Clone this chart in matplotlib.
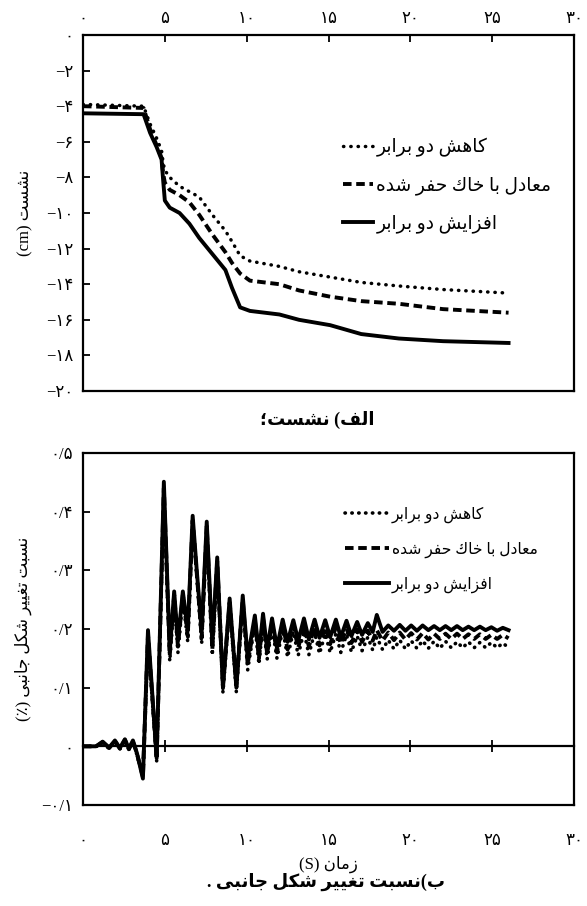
import matplotlib
matplotlib.use('Agg')
import matplotlib.pyplot as plt
from matplotlib.ticker import FuncFormatter, MultipleLocator

plt.rcParams['font.family'] = ['Liberation Serif', 'DejaVu Sans']

# --- top panel: settlement (cm) vs time (s)
t_top = [0, 3.7, 4.1, 4.5, 4.8, 4.9, 5.0, 5.3, 5.9, 6.5, 7.1, 7.9, 8.7, 9.1, 9.6,
         10.2, 12.0, 13.2, 15.1, 17.0, 19.3, 22.0, 26.0]
settle_half = [-3.9, -4.0, -5.0, -5.8, -6.5, -7.2, -7.6, -8.0, -8.5, -8.8, -9.1, -10.1,
               -11.0, -11.6, -12.4, -12.7, -13.0, -13.3, -13.6, -13.9, -14.1, -14.3, -14.5]
settle_equal = [-4.0, -4.1, -5.3, -6.2, -6.9, -7.8, -8.3, -8.7, -9.0, -9.4, -10.1, -11.2,
                -12.2, -12.8, -13.4, -13.8, -14.0, -14.35, -14.7, -14.95, -15.1, -15.4, -15.6]
settle_double = [-4.4, -4.45, -5.5, -6.3, -7.0, -8.2, -9.3, -9.7, -10.0, -10.6, -11.4, -12.3,
                 -13.2, -14.2, -15.3, -15.5, -15.7, -16.0, -16.3, -16.8, -17.05, -17.2, -17.3]

# --- bottom panel: lateral deformation ratio (%) vs time (s)
t_bot = [0, 0.8, 1.2, 1.6, 1.95, 2.25, 2.56, 2.8, 3.05, 3.3, 3.66, 3.97, 4.5, 4.94, 5.3,
         5.57, 5.8, 6.1, 6.4, 6.7, 6.95, 7.25, 7.56, 7.9, 8.2, 8.55, 8.96, 9.37, 9.76, 10.06,
         10.5, 10.75, 11.0, 11.25, 11.55, 11.85, 12.2, 12.5, 12.85, 13.15, 13.5, 13.8,
         14.15, 14.45, 14.8, 15.1, 15.45, 15.75, 16.1, 16.4, 16.75, 17.05, 17.4, 17.7,
         17.95, 18.3, 18.65, 19.0, 19.35, 19.7, 20.05, 20.4, 20.75, 21.1, 21.45, 21.8,
         22.15, 22.5, 22.85, 23.2, 23.55, 23.9, 24.25, 24.6, 24.95, 25.3, 25.65, 26.0]
ratio_half = [0.0, 0.0, 0.006, -0.004, 0.008, -0.005, 0.010, -0.006, 0.008, -0.015,
              -0.050, 0.182, -0.025, 0.430, 0.145, 0.250, 0.160, 0.252, 0.178, 0.378,
              0.290, 0.175, 0.368, 0.155, 0.308, 0.092, 0.238, 0.092, 0.244, 0.130,
              0.208, 0.140, 0.210, 0.148, 0.202, 0.150, 0.199, 0.152, 0.196, 0.155, 0.196, 0.156,
              0.194, 0.158, 0.192, 0.160, 0.192, 0.160, 0.190, 0.161, 0.188, 0.163, 0.186, 0.164,
              0.186, 0.165, 0.181, 0.166, 0.181, 0.166, 0.180, 0.167, 0.180, 0.167, 0.179, 0.167,
              0.179, 0.168, 0.178, 0.168, 0.178, 0.168, 0.177, 0.168, 0.177, 0.168, 0.176, 0.168]
ratio_equal = [0.0, 0.0, 0.007, -0.003, 0.009, -0.004, 0.011, -0.005, 0.009, -0.013,
               -0.052, 0.190, -0.022, 0.440, 0.155, 0.258, 0.170, 0.258, 0.188, 0.385,
               0.295, 0.185, 0.375, 0.165, 0.315, 0.105, 0.245, 0.105, 0.250, 0.140,
               0.215, 0.150, 0.218, 0.158, 0.210, 0.160, 0.208, 0.165, 0.205, 0.168, 0.206, 0.170,
               0.204, 0.172, 0.203, 0.174, 0.203, 0.175, 0.201, 0.176, 0.199, 0.178, 0.197, 0.180,
               0.198, 0.180, 0.194, 0.181, 0.194, 0.182, 0.193, 0.182, 0.193, 0.182, 0.192, 0.183,
               0.192, 0.183, 0.192, 0.183, 0.191, 0.183, 0.191, 0.183, 0.190, 0.183, 0.190, 0.184]
ratio_double = [0.0, 0.0, 0.008, -0.002, 0.010, -0.003, 0.012, -0.004, 0.010, -0.012,
                -0.055, 0.198, -0.020, 0.451, 0.162, 0.264, 0.180, 0.264, 0.198, 0.393,
                0.300, 0.196, 0.383, 0.175, 0.322, 0.099, 0.252, 0.100, 0.257, 0.150,
                0.223, 0.158, 0.226, 0.165, 0.218, 0.168, 0.216, 0.178, 0.215, 0.180, 0.218, 0.182,
                0.216, 0.185, 0.215, 0.186, 0.216, 0.186, 0.214, 0.188, 0.212, 0.190, 0.210, 0.195,
                0.224, 0.195, 0.206, 0.197, 0.207, 0.197, 0.206, 0.197, 0.206, 0.198, 0.205, 0.198,
                0.205, 0.198, 0.205, 0.198, 0.204, 0.198, 0.204, 0.198, 0.203, 0.197, 0.202, 0.198]

series_labels = ['کاهش دو برابر', 'معادل با خاک حفر شده', 'افزایش دو برابر']


# matplotlib has no arabic shaping -> pick presentation forms by hand
# (isolated, final, initial, medial)
FORMS = {
    'ا': ('\uFE8D', '\uFE8E', None, None),
    'ب': ('\uFE8F', '\uFE90', '\uFE91', '\uFE92'),
    'ت': ('\uFE95', '\uFE96', '\uFE97', '\uFE98'),
    'ج': ('\uFE9D', '\uFE9E', '\uFE9F', '\uFEA0'),
    'ح': ('\uFEA1', '\uFEA2', '\uFEA3', '\uFEA4'),
    'خ': ('\uFEA5', '\uFEA6', '\uFEA7', '\uFEA8'),
    'د': ('\uFEA9', '\uFEAA', None, None),
    'ر': ('\uFEAD', '\uFEAE', None, None),
    'ز': ('\uFEAF', '\uFEB0', None, None),
    'س': ('\uFEB1', '\uFEB2', '\uFEB3', '\uFEB4'),
    'ش': ('\uFEB5', '\uFEB6', '\uFEB7', '\uFEB8'),
    'ع': ('\uFEC9', '\uFECA', '\uFECB', '\uFECC'),
    'غ': ('\uFECD', '\uFECE', '\uFECF', '\uFED0'),
    'ف': ('\uFED1', '\uFED2', '\uFED3', '\uFED4'),
    'ک': ('\uFED9', '\uFEDA', '\uFEDB', '\uFEDC'),
    'ل': ('\uFEDD', '\uFEDE', '\uFEDF', '\uFEE0'),
    'م': ('\uFEE1', '\uFEE2', '\uFEE3', '\uFEE4'),
    'ن': ('\uFEE5', '\uFEE6', '\uFEE7', '\uFEE8'),
    'ه': ('\uFEE9', '\uFEEA', '\uFEEB', '\uFEEC'),
    'و': ('\uFEED', '\uFEEE', None, None),
    'ی': ('\uFEEF', '\uFEF0', '\uFEF3', '\uFEF4'),
}


def rtl(text):
    out = []
    for i, ch in enumerate(text):
        if ch not in FORMS:
            out.append(ch)
            continue
        prev = text[i - 1] if i > 0 else ''
        nxt = text[i + 1] if i + 1 < len(text) else ''
        join_prev = prev in FORMS and FORMS[prev][2] is not None
        join_next = nxt in FORMS and FORMS[ch][2] is not None
        iso, fin, ini, med = FORMS[ch]
        if join_prev and join_next:
            out.append(med)
        elif join_prev:
            out.append(fin)
        elif join_next:
            out.append(ini)
        else:
            out.append(iso)
    vis = ''.join(out)[::-1]
    vis = vis.translate(str.maketrans('()', ')('))
    # put latin runs back in reading order
    res, run = '', ''
    for ch in vis:
        if ch.isascii() and ch.isalnum():
            run += ch
        else:
            res += run[::-1] + ch
            run = ''
    return res + run[::-1]


def fa_num(v):
    s = f'{round(v, 1) + 0.0:g}'
    return s.translate(str.maketrans('0123456789-.', '۰۱۲۳۴۵۶۷۸۹−/'))


fig = plt.figure(figsize=(5.87, 9.06), dpi=100)
ax1 = fig.add_axes([0.1414, 0.5684, 0.8365, 0.393])
ax2 = fig.add_axes([0.1414, 0.1115, 0.8365, 0.3885])

# top panel
ax1.plot(t_top, settle_half, color='black', lw=2.5, ls=(0, (0.1, 2.0)),
         dash_capstyle='round', label=rtl(series_labels[0]))
ax1.plot(t_top, settle_equal, color='black', lw=2.8, ls=(0, (2.2, 1.2)),
         label=rtl(series_labels[1]))
ax1.plot(t_top, settle_double, color='black', lw=2.8, label=rtl(series_labels[2]))
ax1.set_xlim(0, 30)
ax1.set_ylim(-20, 0)
ax1.xaxis.set_major_locator(MultipleLocator(5))
ax1.yaxis.set_major_locator(MultipleLocator(2))
ax1.xaxis.tick_top()
ax1.tick_params(axis='x', direction='in', length=5, width=1.3, pad=6, labelsize=12)
ax1.tick_params(axis='y', direction='in', length=5, width=1.3, pad=7, labelsize=12)
ax1.xaxis.set_major_formatter(FuncFormatter(lambda v, p: fa_num(v)))
ax1.yaxis.set_major_formatter(FuncFormatter(lambda v, p: fa_num(v)))
for sp in ax1.spines.values():
    sp.set_linewidth(1.6)
ax1.set_ylabel(rtl('نشست (cm)'), fontsize=12, labelpad=9)
ax1.legend(loc='upper left', bbox_to_anchor=(0.584, 0.848), bbox_transform=fig.transFigure,
           frameon=False, fontsize=13.4, handlelength=1.6, handletextpad=0.2,
           labelspacing=1.05, borderpad=0, borderaxespad=0)

# bottom panel
ax2.plot(t_bot, ratio_half, color='black', lw=2.6, ls=(0, (0.1, 1.8)),
         dash_capstyle='round', label=rtl(series_labels[0]))
ax2.plot(t_bot, ratio_equal, color='black', lw=2.8, ls=(0, (2.2, 1.2)),
         label=rtl(series_labels[1]))
ax2.plot(t_bot, ratio_double, color='black', lw=2.8, label=rtl(series_labels[2]))
ax2.set_xlim(0, 30)
ax2.set_ylim(-0.1, 0.5)
ax2.xaxis.set_major_locator(MultipleLocator(5))
ax2.yaxis.set_major_locator(MultipleLocator(0.1))
ax2.tick_params(axis='x', length=0, pad=20, labelsize=12)
ax2.tick_params(axis='y', direction='in', length=5, width=1.3, pad=7, labelsize=12)
ax2.xaxis.set_major_formatter(FuncFormatter(lambda v, p: fa_num(v)))
ax2.yaxis.set_major_formatter(FuncFormatter(lambda v, p: fa_num(v)))
for sp in ax2.spines.values():
    sp.set_linewidth(1.6)

# zero line with crossing ticks
zero_ax = ax2.secondary_xaxis(0, transform=ax2.transData)
zero_ax.set_xticks([5, 10, 15, 20, 25])
zero_ax.tick_params(direction='inout', length=9, width=1.3, labelbottom=False)
zero_ax.spines['bottom'].set_linewidth(1.6)

ax2.set_ylabel(rtl('نسبت تغییر شکل جانبی (٪)'), fontsize=12, labelpad=7)
ax2.set_xlabel(rtl('زمان (S)'), fontsize=12, labelpad=5)
ax2.legend(loc='upper left', bbox_to_anchor=(0.588, 0.441), bbox_transform=fig.transFigure,
           frameon=False, fontsize=11.2, handlelength=2.8, handletextpad=0.2,
           labelspacing=1.2, borderpad=0, borderaxespad=0)

fig.text(0.54, 1 - 420 / 906, rtl('الف) نشست؛'), ha='center', va='center',
         fontsize=13, fontweight='bold')
fig.text(0.555, 1 - 882 / 906, rtl('ب)نسبت تغییر شکل جانبی .'), ha='center', va='center',
         fontsize=13, fontweight='bold')

fig.savefig('out.png', dpi=100)
